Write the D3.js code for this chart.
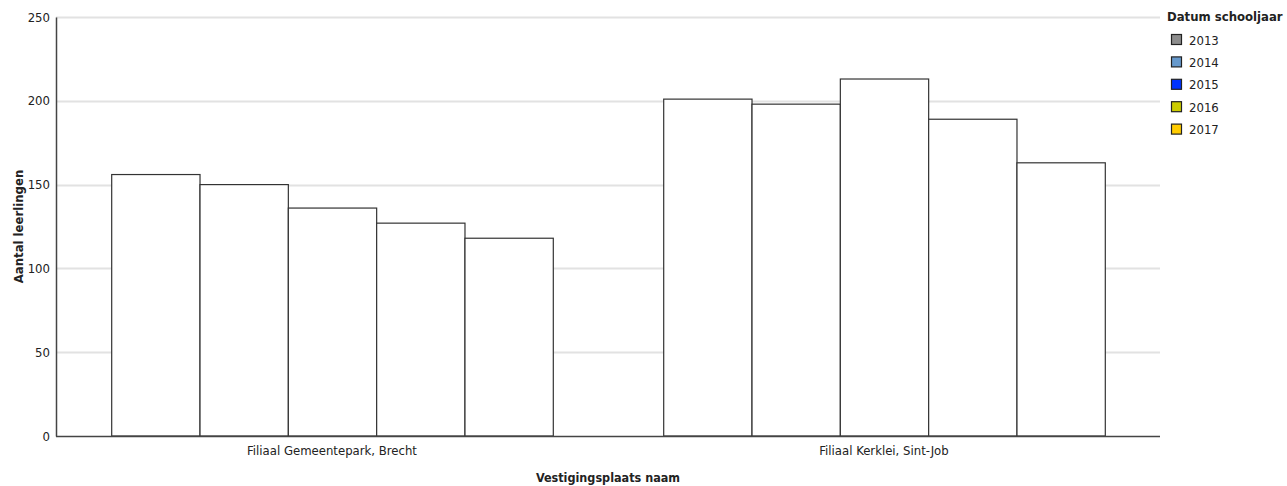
<!DOCTYPE html>
<html><head><meta charset="utf-8">
<script src="https://cdn.jsdelivr.net/npm/d3@7"></script>
<style>body{margin:0;background:#fff;} text{font-family:"DejaVu Sans Condensed","DejaVu Sans",sans-serif;}</style>
</head><body><svg id="c" width="1287" height="486"></svg>
<script>
const categories = ["Filiaal Gemeentepark, Brecht", "Filiaal Kerklei, Sint-Job"];
const years = ["2013", "2014", "2015", "2016", "2017"];
const values2013 = [156, 201];
const values2014 = [150, 198];
const values2015 = [136, 213];
const values2016 = [127, 189];
const values2017 = [118, 163];
const legendColors = ["#8c8c8c", "#6699cc", "#0033ff", "#cccc00", "#ffcc00"];
const yTicks = [0, 50, 100, 150, 200, 250];

const series = [values2013, values2014, values2015, values2016, values2017];
const svg = d3.select("#c");
const m = {left: 56, right: 1160, top: 17, bottom: 436};

const x0 = d3.scaleBand().domain(categories).range([m.left, m.right]).paddingInner(0.2).paddingOuter(0.1);
const x1 = d3.scaleBand().domain(years).range([0, x0.bandwidth()]).padding(0);
const y = d3.scaleLinear().domain([0, 250]).range([m.bottom, m.top]);

// gridlines
svg.append("g").selectAll("line").data(yTicks.filter(d => d > 0)).join("line")
  .attr("x1", m.left).attr("x2", m.right)
  .attr("y1", d => Math.round(y(d)) + 0.5).attr("y2", d => Math.round(y(d)) + 0.5)
  .attr("stroke", "#e2e2e2").attr("stroke-width", 2);

// bars
const rows = [];
categories.forEach((c, ci) => years.forEach((yr, yi) => rows.push({c, yr, v: series[yi][ci]})));
svg.append("g").selectAll("rect").data(rows).join("rect")
  .attr("x", d => x0(d.c) + x1(d.yr) + 0.5)
  .attr("y", d => y(d.v))
  .attr("width", x1.bandwidth())
  .attr("height", d => y(0) - y(d.v))
  .attr("fill", "#ffffff").attr("stroke", "#333").attr("stroke-width", 1.2);

// y axis
const yAxis = d3.axisLeft(y).tickValues(yTicks).tickSize(0).tickPadding(6);
const gy = svg.append("g").attr("transform", `translate(${m.left},0)`).call(yAxis);
gy.select(".domain").attr("stroke", "#444").attr("stroke-width", 1.5);
gy.selectAll("text").attr("font-size", 13).attr("fill", "#222")
  .style("font-family", "'DejaVu Sans Condensed', sans-serif");

// x axis
const xAxis = d3.axisBottom(x0).tickSize(0).tickPadding(10);
const gx = svg.append("g").attr("transform", `translate(0,${m.bottom})`).call(xAxis);
gx.select(".domain").attr("stroke", "#444").attr("stroke-width", 1.5).attr("d", `M${m.left},0.5H${m.right}`);
gx.selectAll("text").attr("font-size", 13).attr("fill", "#222")
  .style("font-family", "'DejaVu Sans Condensed', sans-serif");

// axis titles
svg.append("text").attr("transform", `translate(23,${(m.top + m.bottom) / 2}) rotate(-90)`)
  .attr("text-anchor", "middle").attr("font-size", 13).attr("font-weight", "bold").attr("fill", "#222")
  .text("Aantal leerlingen");
svg.append("text").attr("x", (m.left + m.right) / 2).attr("y", 482)
  .attr("text-anchor", "middle").attr("font-size", 12.5).attr("font-weight", "bold").attr("fill", "#222")
  .text("Vestigingsplaats naam");

// legend
const lg = svg.append("g");
lg.append("text").attr("x", 1167).attr("y", 21).attr("font-size", 13).attr("font-weight", "bold").attr("fill", "#222")
  .text("Datum schooljaar");
const li = lg.selectAll("g.it").data(years).join("g").attr("class", "it")
  .attr("transform", (d, i) => `translate(1171,${34 + i * 22.4})`);
li.append("rect").attr("x", 0.5).attr("y", 0.5).attr("width", 10).attr("height", 10)
  .attr("fill", (d, i) => legendColors[i]).attr("stroke", "#222").attr("stroke-width", 1.2);
li.append("text").attr("x", 18).attr("y", 10.5).attr("font-size", 13).attr("fill", "#222").text(d => d);
</script></body></html>
